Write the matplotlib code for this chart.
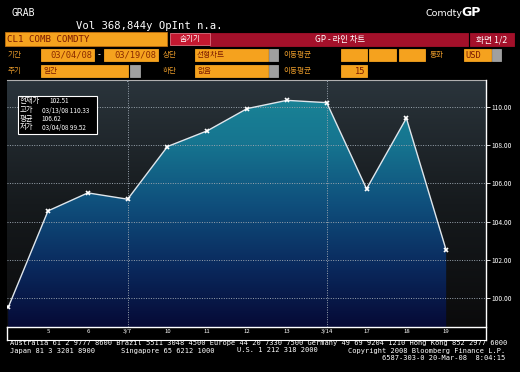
import numpy as np
import matplotlib
matplotlib.use("Agg")
import matplotlib.pyplot as plt
from matplotlib.colors import LinearSegmentedColormap
from matplotlib.patches import Rectangle

plt.rcParams['font.family'] = ['Noto Sans CJK KR', 'DejaVu Sans']

# ---- data ----
dates = ['3/4', '3/5', '3/6', '3/7', '3/10', '3/11', '3/12', '3/13', '3/14', '3/17', '3/18', '3/19']
tick_labels = ['', '5', '6', '3/7', '10', '11', '12', '13', '3/14', '17', '18', '19']
prices = [99.52, 104.56, 105.50, 105.17, 107.92, 108.74, 109.90, 110.33, 110.21, 105.71, 109.40, 102.51]
y_ticks = [100, 102, 104, 106, 108, 110]
week_lines = ['3/7', '3/14']
info_labels = ['현재가', '고가', '평균', '저가']
info_values = ['102.51', '03/13/08 110.33', '106.62', '03/04/08 99.52']

W, H = 520, 372
fig = plt.figure(figsize=(W / 100, H / 100), dpi=100)
fig.patch.set_facecolor('black')

def fx(px):
    return px / W

def fy(py):
    return 1 - py / H

ORANGE = '#f5a21e'
RED = '#a3102a'
LBL = '#e89a2a'
MONO = 'DejaVu Sans Mono'

# ---- header ----
fig.text(fx(12), fy(13), 'GRAB', color='white', fontsize=7, family=MONO, va='center')
fig.text(fx(76), fy(26), 'Vol 368,844y OpInt n.a.', color='white', fontsize=7.6, family=MONO, va='center')
fig.text(fx(462), fy(13), 'Comdty', color='white', fontsize=6.8, family='DejaVu Sans', va='center', ha='right')
fig.text(fx(461), fy(13), 'GP', color='white', fontsize=9, family='DejaVu Sans', weight='bold', va='center')

def box(x0, y0, x1, y1, color, ec=None, lw=0.6):
    fig.patches.append(Rectangle((fx(x0), fy(y1)), fx(x1) - fx(x0), fy(y0) - fy(y1),
                                 transform=fig.transFigure, facecolor=color,
                                 edgecolor=ec if ec else color, lw=lw))

# row 1
box(5, 32, 167, 46, ORANGE, ec='#c07010')
fig.text(fx(7), fy(39.5), 'CL1 COMB COMDTY', color='#7a1800', fontsize=6.6, family=MONO, va='center')
box(210, 33, 468, 46, RED)
box(170, 33, 210, 45, '#c41830', ec='#e07080')
fig.text(fx(190), fy(39), '숨기기', color='white', fontsize=5.5, ha='center', va='center')
fig.text(fx(340), fy(39.5), 'GP - 라인 차트', color='white', fontsize=6, ha='center', va='center')
box(470, 33, 514, 46, RED)
fig.text(fx(492), fy(39.5), '화면 1/2', color='white', fontsize=6.3, ha='center', va='center')

# row 2
fig.text(fx(8), fy(55), '기간', color=LBL, fontsize=5.5, va='center')
box(41, 49, 94, 61, ORANGE)
fig.text(fx(92), fy(55), '03/04/08', color='#8a2a00', fontsize=6.3, family=MONO, ha='right', va='center')
fig.text(fx(99), fy(55), '-', color='white', fontsize=6, va='center', ha='center')
box(104, 49, 158, 61, ORANGE)
fig.text(fx(156), fy(55), '03/19/08', color='#8a2a00', fontsize=6.3, family=MONO, ha='right', va='center')
fig.text(fx(163), fy(55), '상단', color=LBL, fontsize=5.5, va='center')
box(195, 49, 268, 61, ORANGE)
fig.text(fx(197), fy(55), '선형차트', color='#7a1800', fontsize=5.5, va='center')
box(269, 49, 278, 61, '#a0a0a0')
fig.text(fx(283), fy(55), '이동평균', color=LBL, fontsize=5.5, va='center')
for a, b in [(341, 367), (369, 396), (399, 425)]:
    box(a, 49, b, 61, ORANGE)
fig.text(fx(430), fy(55), '통화', color=LBL, fontsize=5.5, va='center')
box(464, 49, 491, 61, ORANGE)
fig.text(fx(465), fy(55), 'USD', color='#7a1800', fontsize=6.3, family=MONO, va='center')
box(492, 49, 501, 61, '#a0a0a0')

# row 3
fig.text(fx(8), fy(71), '주기', color=LBL, fontsize=5.5, va='center')
box(41, 65, 128, 77, ORANGE)
fig.text(fx(43), fy(71), '일간', color='#7a1800', fontsize=5.5, va='center')
box(130, 65, 140, 77, '#a0a0a0')
fig.text(fx(163), fy(71), '하단', color=LBL, fontsize=5.5, va='center')
box(195, 65, 268, 77, ORANGE)
fig.text(fx(197), fy(71), '없음', color='#7a1800', fontsize=5.5, va='center')
box(269, 65, 278, 77, '#a0a0a0')
fig.text(fx(283), fy(71), '이동평균', color=LBL, fontsize=5.5, va='center')
box(341, 65, 367, 77, ORANGE)
fig.text(fx(365), fy(71), '15', color='#7a1800', fontsize=6.3, family=MONO, ha='right', va='center')

# ---- chart ----
top_px, bot_px, left_px, right_px = 81, 327, 7, 486
ax = fig.add_axes([fx(left_px), fy(bot_px), fx(right_px) - fx(left_px), fy(top_px) - fy(bot_px)])
ylo, yhi = 98.5, 111.34
xlo, xhi = -0.03, 12.0
ax.set_xlim(xlo, xhi)
ax.set_ylim(ylo, yhi)
ax.set_facecolor('#101214')

x = np.arange(len(dates))

# background gradient
bg_cmap = LinearSegmentedColormap.from_list('bg', ['#0b0b0c', '#161a1d', '#2a343b'])
grad = np.linspace(0, 1, 256).reshape(-1, 1)
ax.imshow(grad, extent=[xlo, xhi, ylo, yhi], origin='lower', aspect='auto', cmap=bg_cmap, zorder=0)

# gradient fill under line
fill_cmap = LinearSegmentedColormap.from_list('fill', ['#060a36', '#0a2a5e', '#0f4f7c', '#167590', '#1b8898'])
poly = ax.fill_between(x, prices, ylo, facecolor='none', edgecolor='none', zorder=1)
img = ax.imshow(grad, extent=[xlo, xhi, ylo, yhi], origin='lower', aspect='auto', cmap=fill_cmap, zorder=2)
img.set_clip_path(poly.get_paths()[0], transform=ax.transData)

# grid
for yt in y_ticks:
    ax.axhline(yt, color='#9aa4ae', lw=0.7, ls=(0, (1, 1.5)), zorder=3)
for wl in week_lines:
    ax.axvline(dates.index(wl), color='#9aa4ae', lw=0.7, ls=(0, (1, 1.5)), zorder=3)

ax.plot(x, prices, color='#dfe6ec', lw=1.0, zorder=4)
ax.plot(x, prices, ls='none', marker='x', ms=3.2, mew=1.2, color='white', zorder=5)

ax.set_xticks(x)
ax.set_xticklabels(tick_labels)
ax.tick_params(axis='x', length=0, pad=1.5, labelsize=4.3, labelcolor='white')
ax.yaxis.tick_right()
ax.set_yticks(y_ticks)
ax.set_yticklabels([f'{v:.2f}' for v in y_ticks])
ax.tick_params(axis='y', length=3, width=0.6, color='white', pad=1, labelsize=4.8, labelcolor='white')
for s in ax.spines.values():
    s.set_visible(False)
ax.spines['bottom'].set_visible(True)
ax.spines['bottom'].set_color('white')
ax.spines['bottom'].set_linewidth(1)

# frame
fig.add_artist(plt.Line2D([fx(7), fx(486)], [fy(80), fy(80)], color='#b0b0b0', lw=0.8, transform=fig.transFigure))
fig.add_artist(plt.Line2D([fx(486), fx(486)], [fy(80), fy(340)], color='white', lw=1, transform=fig.transFigure))
fig.add_artist(plt.Line2D([fx(7), fx(7)], [fy(327), fy(340)], color='white', lw=1, transform=fig.transFigure))
fig.add_artist(plt.Line2D([fx(7), fx(486)], [fy(340), fy(340)], color='white', lw=0.8, transform=fig.transFigure))
for wl_px in [126.7, 326.7]:
    fig.add_artist(plt.Line2D([fx(wl_px), fx(wl_px)], [fy(80), fy(81)], color='#9aa4ae', lw=0.7, transform=fig.transFigure))

# info box
box(18, 96, 97, 134, 'black', ec='white', lw=0.8)
for i, (lab, val) in enumerate(zip(info_labels, info_values)):
    yy = [100.5, 110, 118.5, 127.5][i]
    fig.text(fx(20), fy(yy), lab, color='white', fontsize=5.3, va='center')
    fig.text(fx([49, 42, 41, 42][i]), fy(yy + 0.5), val, color='white', fontsize=4.6, va='center')

# footer
fig.text(fx(10), fy(343), 'Australia 61 2 9777 8600 Brazil 5511 3048 4500 Europe 44 20 7330 7500 Germany 49 69 9204 1210 Hong Kong 852 2977 6000',
         color='white', fontsize=5.0, family=MONO, va='center')
fig.text(fx(10), fy(350.5), 'Japan 81 3 3201 8900', color='white', fontsize=5.0, family=MONO, va='center')
fig.text(fx(121), fy(350.5), 'Singapore 65 6212 1000', color='white', fontsize=5.0, family=MONO, va='center')
fig.text(fx(237), fy(350.5), 'U.S. 1 212 318 2000', color='white', fontsize=5.0, family=MONO, va='center')
fig.text(fx(505), fy(350.5), 'Copyright 2008 Bloomberg Finance L.P.', color='white', fontsize=5.0, family=MONO, va='center', ha='right')
fig.text(fx(505), fy(357.5), '6587-303-0 20-Mar-08  8:04:15', color='white', fontsize=5.0, family=MONO, va='center', ha='right')

fig.savefig('out.png', dpi=100, facecolor='black')
